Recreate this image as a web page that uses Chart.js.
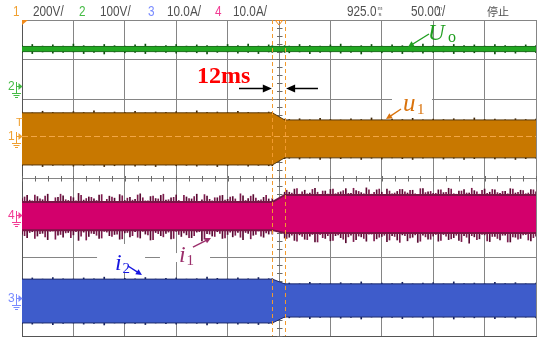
<!DOCTYPE html>
<html>
<head>
<meta charset="utf-8">
<script src="https://cdn.jsdelivr.net/npm/chart.js@4/dist/chart.umd.min.js"></script>
<style>
  html, body { margin: 0; padding: 0; background: #fff; }
  #wrap { width: 540px; height: 341px; }
</style>
</head>
<body>
<div id="wrap"><canvas id="scope" width="540" height="341"></canvas></div>
<script>
// Time axis: ms relative to screen centre, 50 ms/div over 10 divisions.
// Vertical axis: screen divisions (8 divisions, 0 at centre).

// Envelope break points: steady state before and after the step
const tKey = [-250, -6.5, 5.5, 250];

// Trace envelopes (upper / lower edge of each trace body)
const uoTop    = [3.33, 3.33, 3.33, 3.33];
const uoBottom = [3.20, 3.20, 3.20, 3.20];
const u1Top    = [1.65, 1.65, 1.47, 1.47];
const u1Bottom = [0.33, 0.33, 0.51, 0.51];
const i1Top    = [-0.61, -0.61, -0.43, -0.43];
const i1Bottom = [-1.32, -1.32, -1.39, -1.39];
const i2Top    = [-2.56, -2.56, -2.68, -2.68];
const i2Bottom = [-3.67, -3.67, -3.52, -3.52];

// Trace mid-lines (noise spikes grow out from here)
const traceMid = [3.27, 1.0, -0.95, -3.1];

// Noise spike instants
const tFine = [
  -250,-245,-240,-235,-230,-225,-220,-215,-210,-205,-200,-195,-190,-185,-180,-175,-170,-165,-160,-155,
  -150,-145,-140,-135,-130,-125,-120,-115,-110,-105,-100,-95,-90,-85,-80,-75,-70,-65,-60,-55,
  -50,-45,-40,-35,-30,-25,-20,-15,-10,
  -6.5, 5.5,
  10,15,20,25,30,35,40,45,50,55,60,65,70,75,80,85,90,95,100,105,
  110,115,120,125,130,135,140,145,150,155,160,165,170,175,180,185,190,195,200,205,
  210,215,220,225,230,235,240,245,250
];
const tHalf = [
  -247.5,-242.5,-237.5,-232.5,-227.5,-222.5,-217.5,-212.5,-207.5,-202.5,-197.5,-192.5,-187.5,-182.5,-177.5,-172.5,
  -167.5,-162.5,-157.5,-152.5,-147.5,-142.5,-137.5,-132.5,-127.5,-122.5,-117.5,-112.5,-107.5,-102.5,-97.5,-92.5,
  -87.5,-82.5,-77.5,-72.5,-67.5,-62.5,-57.5,-52.5,-47.5,-42.5,-37.5,-32.5,-27.5,-22.5,-17.5,-12.5,
  7.5,12.5,17.5,22.5,27.5,32.5,37.5,42.5,47.5,52.5,57.5,62.5,67.5,72.5,77.5,82.5,87.5,92.5,97.5,102.5,
  107.5,112.5,117.5,122.5,127.5,132.5,137.5,142.5,147.5,152.5,157.5,162.5,167.5,172.5,177.5,182.5,187.5,192.5,
  197.5,202.5,207.5,212.5,217.5,222.5,227.5,232.5,237.5,242.5,247.5
];
const tCoarse = [
  -250,-240,-230,-220,-210,-200,-190,-180,-170,-160,-150,-140,-130,-120,-110,-100,-90,-80,-70,-60,
  -50,-40,-30,-20,-10,
  -6.5, 5.5,
  10,20,30,40,50,60,70,80,90,100,110,120,130,140,150,160,170,180,190,200,210,220,230,240,250
];

// Spike tips
const uoSpikeUp = [
  3.35,3.38,3.34,3.37,3.34,3.39,3.35,3.34,3.38,3.35,3.34,3.37,3.39,3.34,3.35,3.38,3.34,3.37,3.35,3.34,3.38,3.35,3.39,3.34,3.37,
  3.35,3.35,
  3.34,3.38,3.35,3.34,3.37,3.39,3.34,3.35,3.38,3.34,3.37,3.35,3.34,3.39,3.35,3.34,3.38,3.35,3.37,3.34,3.38,3.35,3.34,3.37,3.35
];
const uoSpikeDown = [
  3.18,3.15,3.19,3.16,3.18,3.19,3.15,3.18,3.14,3.19,3.17,3.18,3.15,3.19,3.18,3.16,3.19,3.17,3.14,3.18,3.19,3.16,3.18,3.15,3.19,
  3.18,3.18,
  3.17,3.19,3.15,3.18,3.19,3.16,3.18,3.14,3.19,3.17,3.18,3.15,3.19,3.16,3.18,3.19,3.15,3.18,3.17,3.19,3.14,3.18,3.16,3.19,3.17
];
const u1SpikeUp = [
  1.67,1.65,1.69,1.66,1.65,1.68,1.66,1.70,1.65,1.67,1.66,1.69,1.65,1.67,1.66,1.68,1.65,1.70,1.66,1.67,1.65,1.69,1.66,1.65,1.67,
  1.66,1.49,
  1.48,1.50,1.47,1.51,1.48,1.47,1.50,1.48,1.52,1.47,1.49,1.48,1.51,1.47,1.49,1.48,1.50,1.47,1.52,1.48,1.49,1.47,1.50,1.48,1.49
];
const u1SpikeDown = [
  0.31,0.33,0.29,0.32,0.33,0.30,0.32,0.33,0.29,0.31,0.33,0.30,0.32,0.29,0.33,0.31,0.32,0.30,0.33,0.29,0.31,0.33,0.30,0.32,0.31,
  0.31,0.49,
  0.50,0.48,0.51,0.47,0.50,0.49,0.51,0.47,0.50,0.48,0.51,0.49,0.47,0.50,0.51,0.48,0.50,0.47,0.49,0.51,0.48,0.50,0.47,0.49,0.50
];
const i1SpikeUp = [
  -0.52,-0.44,-0.58,-0.47,-0.55,-0.41,-0.60,-0.49,-0.45,-0.57,-0.50,-0.39,-0.56,-0.48,-0.53,-0.43,-0.59,-0.46,-0.51,-0.42,
  -0.57,-0.49,-0.54,-0.40,-0.58,-0.47,-0.52,-0.44,-0.56,-0.50,-0.43,-0.59,-0.48,-0.53,-0.41,-0.55,-0.46,-0.58,-0.50,-0.44,
  -0.54,-0.47,-0.60,-0.45,-0.52,-0.42,-0.57,-0.49,-0.53,
  -0.52,-0.36,
  -0.36,-0.28,-0.41,-0.31,-0.38,-0.26,-0.42,-0.33,-0.29,-0.40,-0.35,-0.27,-0.39,-0.32,-0.37,-0.25,-0.41,-0.30,-0.36,-0.28,
  -0.40,-0.34,-0.29,-0.38,-0.31,-0.42,-0.27,-0.35,-0.39,-0.30,-0.37,-0.26,-0.40,-0.33,-0.29,-0.38,-0.32,-0.41,-0.28,-0.36,
  -0.30,-0.39,-0.34,-0.27,-0.38,-0.31,-0.40,-0.29,-0.35
];
const i1SpikeDown = [
  -1.42,-1.51,-1.36,-1.47,-1.40,-1.56,-1.34,-1.45,-1.50,-1.38,-1.44,-1.58,-1.37,-1.48,-1.41,-1.53,-1.35,-1.46,-1.43,-1.55,
  -1.39,-1.49,-1.36,-1.52,-1.42,-1.57,-1.38,-1.46,-1.40,-1.54,-1.35,-1.48,-1.44,-1.51,-1.37,-1.59,-1.41,-1.47,-1.36,-1.53,
  -1.43,-1.49,-1.38,-1.56,-1.40,-1.45,-1.34,-1.50,-1.42,
  -1.42,-1.52,
  -1.50,-1.58,-1.44,-1.55,-1.47,-1.62,-1.43,-1.53,-1.59,-1.46,-1.51,-1.64,-1.45,-1.56,-1.49,-1.60,-1.42,-1.54,-1.48,-1.61,
  -1.46,-1.57,-1.44,-1.59,-1.50,-1.63,-1.45,-1.55,-1.47,-1.60,-1.43,-1.56,-1.51,-1.58,-1.46,-1.65,-1.49,-1.54,-1.44,-1.61,
  -1.48,-1.57,-1.45,-1.62,-1.50,-1.53,-1.43,-1.59,-1.47
];
const i1SpikeUpB = [
  -0.48,-0.56,-0.43,-0.53,-0.46,-0.59,-0.50,-0.41,-0.55,-0.47,-0.58,-0.44,-0.52,-0.49,-0.57,-0.42,
  -0.54,-0.48,-0.60,-0.45,-0.51,-0.56,-0.43,-0.50,-0.58,-0.46,-0.53,-0.41,-0.55,-0.49,-0.57,-0.44,
  -0.52,-0.47,-0.59,-0.42,-0.54,-0.50,-0.45,-0.56,-0.48,-0.53,-0.40,-0.57,-0.46,-0.51,-0.55,-0.44,
  -0.31,-0.38,-0.27,-0.35,-0.40,-0.29,-0.36,-0.33,-0.41,-0.28,-0.37,-0.32,-0.39,-0.26,-0.34,-0.40,
  -0.30,-0.36,-0.28,-0.42,-0.33,-0.38,-0.29,-0.35,-0.31,-0.40,-0.27,-0.37,-0.34,-0.39,-0.30,-0.36,
  -0.28,-0.41,-0.33,-0.38,-0.26,-0.35,-0.31,-0.39,-0.29,-0.37,-0.34,-0.40,-0.28,-0.36,-0.32,-0.38,-0.30
];
const i1SpikeDownB = [
  -1.46,-1.38,-1.53,-1.41,-1.49,-1.35,-1.55,-1.43,-1.39,-1.51,-1.36,-1.47,-1.57,-1.40,-1.45,-1.52,
  -1.37,-1.48,-1.42,-1.54,-1.38,-1.46,-1.50,-1.35,-1.44,-1.56,-1.41,-1.49,-1.37,-1.53,-1.43,-1.39,
  -1.51,-1.46,-1.36,-1.55,-1.42,-1.48,-1.40,-1.52,-1.37,-1.45,-1.50,-1.38,-1.54,-1.43,-1.47,-1.39,
  -1.53,-1.45,-1.60,-1.48,-1.56,-1.43,-1.62,-1.51,-1.46,-1.58,-1.44,-1.55,-1.49,-1.61,-1.47,-1.53,
  -1.42,-1.59,-1.50,-1.45,-1.57,-1.48,-1.63,-1.46,-1.52,-1.44,-1.60,-1.49,-1.55,-1.43,-1.58,-1.47,
  -1.54,-1.45,-1.61,-1.50,-1.46,-1.56,-1.43,-1.59,-1.48,-1.53,-1.45,-1.62,-1.49,-1.55,-1.44,-1.57,-1.51
];
const i2SpikeUp = [
  -2.55,-2.53,-2.56,-2.52,-2.55,-2.56,-2.53,-2.55,-2.51,-2.56,-2.54,-2.55,-2.52,-2.56,-2.54,-2.53,-2.56,-2.55,-2.51,-2.54,-2.56,-2.53,-2.55,-2.52,-2.55,
  -2.55,-2.67,
  -2.66,-2.68,-2.64,-2.67,-2.68,-2.65,-2.67,-2.63,-2.68,-2.66,-2.67,-2.64,-2.68,-2.66,-2.65,-2.68,-2.63,-2.67,-2.66,-2.68,-2.64,-2.67,-2.65,-2.68,-2.66
];
const i2SpikeDown = [
  -3.68,-3.70,-3.67,-3.71,-3.68,-3.67,-3.70,-3.68,-3.72,-3.67,-3.69,-3.68,-3.71,-3.67,-3.69,-3.70,-3.67,-3.68,-3.72,-3.69,-3.67,-3.70,-3.68,-3.71,-3.68,
  -3.68,-3.53,
  -3.54,-3.52,-3.56,-3.53,-3.52,-3.55,-3.53,-3.57,-3.52,-3.54,-3.53,-3.56,-3.52,-3.54,-3.55,-3.52,-3.57,-3.53,-3.54,-3.52,-3.56,-3.53,-3.55,-3.52,-3.54
];

// Channel ground-level markers (divisions) and trigger level
const chLabels = ['2', '1', '4', '3'];
const chLevels = [2.33, 1.06, -0.94, -3.04];
const chMarkColors = ['#45bb45', '#f0a030', '#f23c94', '#7a8cff'];
const triggerLevel = 1.42;

// Time cursors (ms)
const cursors = [-6.5, 5.5];

// Header readout
const header = [
  { t: '1', x: 13, c: '#f0a030' }, { t: '200V/', x: 33, c: '#505050' },
  { t: '2', x: 79, c: '#45bb45' }, { t: '100V/', x: 100, c: '#505050' },
  { t: '3', x: 148, c: '#7a8cff' }, { t: '10.0A/', x: 167, c: '#505050' },
  { t: '4', x: 215, c: '#f23c94' }, { t: '10.0A/', x: 233, c: '#505050' }
];

function pts(times, vals) { return times.map((t, i) => ({ x: t, y: vals[i] })); }
function spikePts(times, tips, mid) { return times.map((t, i) => ({ x: t, y: [mid, tips[i]] })); }

const datasets = [];
function addTrace(top, bottom, fillCol, edgeCol, edgeW) {
  datasets.push({ type: 'line', order: 1, data: pts(tKey, top), borderColor: edgeCol, borderWidth: edgeW, pointRadius: 0, fill: false, tension: 0 });
  datasets.push({ type: 'line', order: 1, data: pts(tKey, bottom), borderColor: edgeCol, borderWidth: edgeW, pointRadius: 0, fill: '-1', backgroundColor: fillCol, tension: 0 });
}
function addSpikes(times, tips, mid, col) {
  datasets.push({ type: 'bar', order: 2, grouped: false, barThickness: 1, data: spikePts(times, tips, mid), backgroundColor: col, borderWidth: 0 });
}
addTrace(uoTop, uoBottom, '#22a822', '#1a6e1a', 1);
addTrace(u1Top, u1Bottom, '#c87800', '#5a3a0c', 1);
addTrace(i1Top, i1Bottom, '#d3006c', '#7a1446', 2);
addTrace(i2Top, i2Bottom, '#3e5ccb', '#1f2c6c', 1);
addSpikes(tCoarse, uoSpikeUp, traceMid[0], '#0d4d0d');
addSpikes(tCoarse, uoSpikeDown, traceMid[0], '#0d4d0d');
addSpikes(tCoarse, u1SpikeUp, traceMid[1], '#3d2508');
addSpikes(tCoarse, u1SpikeDown, traceMid[1], '#3d2508');
addSpikes(tFine, i1SpikeUp, traceMid[2], '#5a0a32');
addSpikes(tFine, i1SpikeDown, traceMid[2], '#5a0a32');
addSpikes(tHalf, i1SpikeUpB, traceMid[2], '#7c1a4c');
addSpikes(tHalf, i1SpikeDownB, traceMid[2], '#7c1a4c');
addSpikes(tCoarse, i2SpikeUp, traceMid[3], '#16205a');
addSpikes(tCoarse, i2SpikeDown, traceMid[3], '#16205a');

function arrow(ctx, x1, y1, x2, y2, color, lw, hl, hw) {
  const a = Math.atan2(y2 - y1, x2 - x1);
  ctx.save();
  ctx.strokeStyle = color; ctx.fillStyle = color; ctx.lineWidth = lw;
  ctx.beginPath();
  ctx.moveTo(x1, y1);
  ctx.lineTo(x2 - hl * 0.8 * Math.cos(a), y2 - hl * 0.8 * Math.sin(a));
  ctx.stroke();
  ctx.beginPath();
  ctx.moveTo(x2, y2);
  ctx.lineTo(x2 - hl * Math.cos(a) + hw * Math.sin(a), y2 - hl * Math.sin(a) - hw * Math.cos(a));
  ctx.lineTo(x2 - hl * Math.cos(a) - hw * Math.sin(a), y2 - hl * Math.sin(a) + hw * Math.cos(a));
  ctx.closePath();
  ctx.fill();
  ctx.restore();
}

function subLabel(ctx, main, sub, x, y, sx, sy, color, size, subSize) {
  ctx.save();
  ctx.fillStyle = color;
  ctx.textAlign = 'left';
  ctx.textBaseline = 'alphabetic';
  ctx.font = 'italic ' + size + 'px "Liberation Serif"';
  ctx.fillText(main, x, y);
  ctx.font = subSize + 'px "Liberation Serif"';
  ctx.fillText(sub, sx, sy);
  ctx.restore();
}

function groundMark(ctx, label, lvl, color) {
  ctx.save();
  ctx.fillStyle = color; ctx.strokeStyle = color; ctx.lineWidth = 1;
  ctx.font = '12px "Liberation Sans"';
  ctx.textAlign = 'left';
  ctx.fillText(label, 8, lvl + 4);
  ctx.beginPath();
  ctx.moveTo(16.5, lvl - 4); ctx.lineTo(16.5, lvl + 7);
  ctx.moveTo(16.5, lvl + 0.5); ctx.lineTo(19, lvl + 0.5);
  ctx.moveTo(12, lvl + 7.5); ctx.lineTo(21, lvl + 7.5);
  ctx.moveTo(13.5, lvl + 9.5); ctx.lineTo(19.5, lvl + 9.5);
  ctx.moveTo(15, lvl + 11.5); ctx.lineTo(18, lvl + 11.5);
  ctx.stroke();
  ctx.beginPath();
  ctx.moveTo(18.5, lvl - 3); ctx.lineTo(22.5, lvl + 0.5); ctx.lineTo(18.5, lvl + 4);
  ctx.closePath(); ctx.fill();
  ctx.restore();
}

const scopeDecor = {
  id: 'scopeDecor',
  beforeDatasetsDraw(chart) {
    const { ctx, scales: { x, y } } = chart;
    const cx = Math.round(x.getPixelForValue(0)) + 0.5;
    const cy = Math.round(y.getPixelForValue(0)) + 0.5;
    ctx.save();
    ctx.strokeStyle = '#6a6a6a'; ctx.lineWidth = 1;
    ctx.beginPath();
    for (let d = -4; d <= 4.001; d += 0.2) {
      const py = Math.round(y.getPixelForValue(d)) + 0.5;
      ctx.moveTo(cx - 2.5, py); ctx.lineTo(cx + 3, py);
    }
    for (let t = -250; t <= 250.001; t += 12.5) {
      const px = Math.round(x.getPixelForValue(t)) + 0.5;
      ctx.moveTo(px, cy - 2.5); ctx.lineTo(px, cy + 3);
    }
    ctx.stroke();
    ctx.restore();
  },
  afterDatasetsDraw(chart) {
    const { ctx, chartArea: ca, scales: { x, y } } = chart;
    const X = v => x.getPixelForValue(v), Y = v => y.getPixelForValue(v);
    ctx.save();

    // ch1 reference level through the u1 trace
    ctx.strokeStyle = '#f3a645'; ctx.lineWidth = 1; ctx.setLineDash([6, 3]);
    ctx.beginPath();
    ctx.moveTo(ca.left, Math.round(Y(chLevels[1])) + 0.5);
    ctx.lineTo(ca.right, Math.round(Y(chLevels[1])) + 0.5);
    ctx.stroke();

    // time cursors
    ctx.strokeStyle = '#f29a2e'; ctx.setLineDash([4, 3]);
    cursors.forEach(c => {
      const px = Math.round(X(c)) + 0.5;
      ctx.beginPath(); ctx.moveTo(px, ca.top); ctx.lineTo(px, ca.bottom); ctx.stroke();
    });
    ctx.setLineDash([]);

    // white patches behind the labels
    ctx.fillStyle = '#ffffff';
    [[-177, -130.3, -1.67, -2.38], [-115.8, -67.1, -1.9, -2.127], [109.9, 148.8, 2.076, 1.924]].forEach(b => {
      ctx.fillRect(X(b[0]), Y(b[2]), X(b[1]) - X(b[0]), Y(b[3]) - Y(b[2]));
    });

    // interval annotation
    ctx.fillStyle = '#ff0000';
    ctx.font = 'bold 24px "Liberation Serif"';
    ctx.textAlign = 'left';
    ctx.fillText('12ms', X(-79.8), Y(2.405));
    arrow(ctx, X(-38.9), Y(2.266), X(cursors[0]) - 0.5, Y(2.266), '#000', 1.5, 9, 4);
    arrow(ctx, X(37.9), Y(2.266), X(cursors[1]) + 1.5, Y(2.266), '#000', 1.5, 9, 4);

    // trace names
    subLabel(ctx, 'U', 'o', X(144.9), Y(3.494), X(164.4), Y(3.443), '#1f9e1f', 23, 16);
    arrow(ctx, X(145.9), Y(3.646), X(125.5), Y(3.316), '#1f9e1f', 1.4, 6, 3);

    subLabel(ctx, 'u', '1', X(120.6), Y(1.696), X(134.2), Y(1.62), '#d9720b', 25, 15);
    arrow(ctx, X(118.7), Y(1.747), X(104.1), Y(1.494), '#d9720b', 1.4, 6, 3);

    subLabel(ctx, 'i', '1', X(-97.3), Y(-2.127), X(-90.0), Y(-2.203), '#9b2f6b', 24, 15);
    arrow(ctx, X(-83.7), Y(-1.747), X(-66.1), Y(-1.519), '#9b2f6b', 1.4, 6, 3);

    subLabel(ctx, 'i', '2', X(-159.5), Y(-2.329), X(-152.2), Y(-2.405), '#1616e0', 24, 15);
    arrow(ctx, X(-146.9), Y(-2.228), X(-133.3), Y(-2.456), '#1616e0', 1.4, 6, 3);

    ctx.restore();
  },
  afterDraw(chart) {
    const { ctx, chartArea: ca, scales: { x, y } } = chart;
    ctx.save();

    // header readout
    ctx.textBaseline = 'alphabetic';
    ctx.textAlign = 'left';
    const hText = (t, px, c) => {
      ctx.save(); ctx.translate(px, 16); ctx.scale(0.84, 1);
      ctx.fillStyle = c; ctx.font = '14px "Liberation Sans"'; ctx.fillText(t, 0, 0);
      ctx.restore();
    };
    header.forEach(h => hText(h.t, h.x, h.c));
    hText('925.0', 347, '#505050');
    hText('50.00', 411, '#505050');
    hText('/', 442, '#505050');
    ctx.fillStyle = '#505050';
    ctx.font = '6px "Liberation Sans"';
    ctx.fillText('m', 377.5, 10); ctx.fillText('s', 378.5, 16);
    ctx.fillText('m', 437, 10); ctx.fillText('s', 438, 16);
    ctx.font = '11px "Noto Sans CJK SC"';
    ctx.fillText('停止', 487, 16);

    // trigger markers
    ctx.fillStyle = '#f08a1a';
    ctx.beginPath();
    ctx.moveTo(ca.left, ca.top); ctx.lineTo(ca.left + 6, ca.top); ctx.lineTo(ca.left, ca.top + 5);
    ctx.closePath(); ctx.fill();
    ctx.strokeStyle = '#f08a1a'; ctx.lineWidth = 1;
    const tx = x.getPixelForValue(0);
    ctx.beginPath();
    ctx.moveTo(tx - 3.5, ca.top + 0.5); ctx.lineTo(tx + 3.5, ca.top + 0.5); ctx.lineTo(tx, ca.top + 5); ctx.closePath();
    ctx.stroke();

    // channel ground markers
    chLabels.forEach((l, i) => groundMark(ctx, l, Math.round(y.getPixelForValue(chLevels[i])), chMarkColors[i]));
    ctx.fillStyle = '#f0a030';
    ctx.font = '11px "Liberation Sans"';
    ctx.fillText('T', 16, y.getPixelForValue(triggerLevel) + 4);

    ctx.restore();
  }
};

new Chart(document.getElementById('scope'), {
  type: 'line',
  data: { datasets },
  options: {
    responsive: false,
    devicePixelRatio: 1,
    animation: false,
    layout: { padding: { left: 22, top: 20, right: 4, bottom: 5 } },
    plugins: { legend: { display: false }, tooltip: { enabled: false } },
    scales: {
      x: {
        type: 'linear', min: -250, max: 250, offset: false,
        ticks: { display: false, stepSize: 50 },
        grid: { color: '#858585', lineWidth: 1, drawTicks: false, offset: false },
        border: { color: '#555555' }
      },
      y: {
        type: 'linear', min: -4, max: 4,
        ticks: { display: false, stepSize: 1 },
        grid: { color: '#858585', lineWidth: 1, drawTicks: false },
        border: { color: '#555555' }
      }
    }
  },
  plugins: [scopeDecor]
});
</script>
</body>
</html>
